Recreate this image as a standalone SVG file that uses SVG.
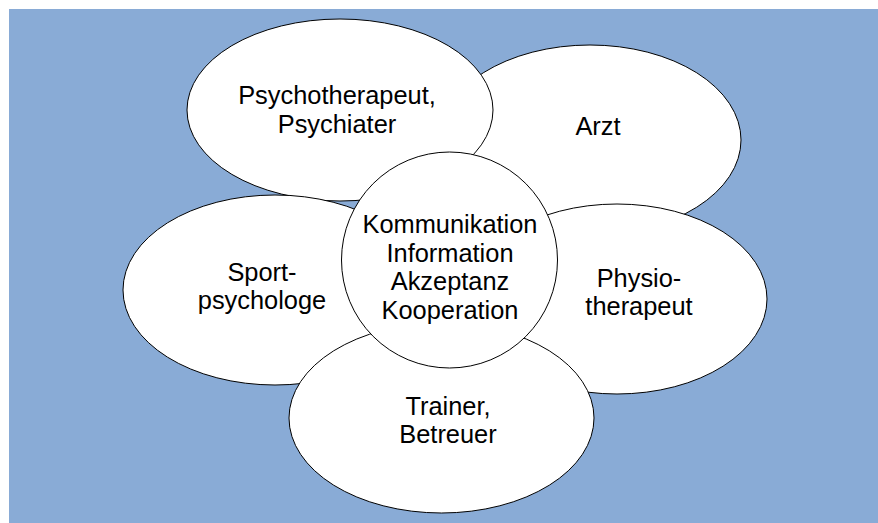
<svg xmlns="http://www.w3.org/2000/svg" width="878" height="523" viewBox="0 0 878 523">
<style>
.n{fill:#ffffff;stroke:#000000;stroke-width:1}
.t{font-family:"Liberation Sans",Arial,sans-serif;font-size:25.4px;fill:#000000;text-anchor:middle}
</style>
<rect x="9" y="9" width="869" height="514" fill="#89abd6"/>
<g id="arzt"><ellipse class="n" cx="590" cy="140" rx="151" ry="95"/><text class="t" x="598" y="135">Arzt</text></g>
<g id="psychotherapeut"><ellipse class="n" cx="340" cy="110" rx="153" ry="91"/><text class="t" x="337" y="104">Psychotherapeut,</text><text class="t" x="337" y="133">Psychiater</text></g>
<g id="sportpsychologe"><ellipse class="n" cx="275" cy="290" rx="152" ry="95"/><text class="t" x="262" y="281">Sport-</text><text class="t" x="262" y="309">psychologe</text></g>
<g id="physiotherapeut"><ellipse class="n" cx="617" cy="299" rx="150" ry="95"/><text class="t" x="639" y="287">Physio-</text><text class="t" x="639" y="315">therapeut</text></g>
<g id="trainer"><ellipse class="n" cx="441.5" cy="418" rx="152.5" ry="95"/><text class="t" x="448" y="415">Trainer,</text><text class="t" x="448" y="443">Betreuer</text></g>
<g id="center"><circle class="n" cx="449.5" cy="260" r="108"/><text class="t" x="450" y="233">Kommunikation</text><text class="t" x="450" y="262">Information</text><text class="t" x="450" y="290">Akzeptanz</text><text class="t" x="450" y="319">Kooperation</text></g>
<g id="connectors"></g>
</svg>
